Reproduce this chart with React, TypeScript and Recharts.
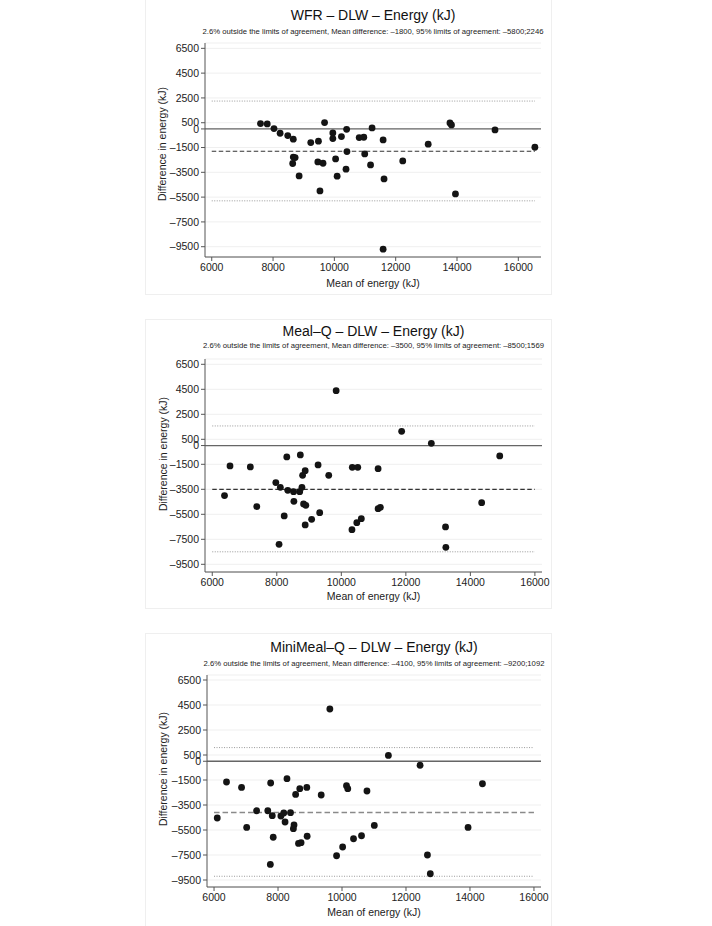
import React from 'react';
import { ScatterChart, Scatter, XAxis, YAxis, CartesianGrid, ReferenceLine } from 'recharts';

// ---- shared axis ticks ----
const xTicks = [6000, 8000, 10000, 12000, 14000, 16000];
const yTicks = [6500, 4500, 2500, 500, 0, -1500, -3500, -5500, -7500, -9500];

// ---- Panel 1: WFR - DLW ----
const wfrMean = [7590, 7810, 8030, 8230, 8480, 8660, 8660, 8720, 8640, 8850, 9230, 9480, 9460, 9630, 9680, 9530, 9950, 9950, 10040, 10090, 10230, 10400, 10410, 10380, 10810, 10960, 10990, 11230, 11180, 11590, 11620, 11590, 12230, 13060, 13770, 13820, 13950, 15240, 16540];
const wfrDiff = [430, 400, 30, -350, -540, -830, -2270, -2310, -2790, -3790, -1100, -990, -2660, -2770, 510, -5000, -320, -780, -2420, -3810, -620, -30, -1830, -3250, -700, -670, -2020, 80, -2900, -890, -4030, -9700, -2580, -1230, 480, 320, -5240, -80, -1480];
const wfrStats = { mean: -1800, lower: -5800, upper: 2246 };

// ---- Panel 2: Meal-Q - DLW ----
const mealMean = [6380, 6550, 7180, 7380, 7970, 8110, 8310, 8340, 8230, 8070, 8530, 8520, 8710, 8730, 8780, 8800, 8880, 8830, 8900, 8880, 9080, 9280, 9330, 9610, 9840, 10340, 10510, 10330, 10480, 10620, 11140, 11140, 11210, 11870, 12790, 13230, 13240, 14350, 14910];
const mealDiff = [-4000, -1630, -1710, -4880, -2960, -3340, -910, -3580, -5630, -7900, -4460, -3690, -3690, -750, -3340, -2380, -2010, -4670, -4780, -6350, -5900, -1550, -5370, -2380, 4390, -1740, -1740, -6730, -6170, -5850, -1850, -5050, -4940, 1140, 180, -6510, -8140, -4570, -830];
const mealStats = { mean: -3500, lower: -8500, upper: 1569 };

// ---- Panel 3: MiniMeal-Q - DLW ----
const miniMean = [9620, 6390, 6860, 7770, 8280, 8680, 8550, 8900, 9350, 10140, 10180, 10780, 6100, 7330, 7680, 7820, 8090, 8180, 8390, 8220, 7020, 8500, 8480, 7850, 8910, 8640, 8720, 10360, 10610, 10020, 9830, 7760, 11010, 11450, 12440, 14390, 13940, 12670, 12760];
const miniDiff = [4180, -1660, -2090, -1740, -1390, -2190, -2650, -2090, -2700, -1950, -2190, -2380, -4540, -3960, -3960, -4350, -4380, -4140, -4110, -4860, -5290, -5100, -5390, -6080, -6000, -6570, -6510, -6200, -5960, -6860, -7560, -8250, -5130, 470, -320, -1800, -5290, -7500, -9000];
const miniStats = { mean: -4100, lower: -9200, upper: 1092 };

const titles = ['WFR – DLW – Energy (kJ)', 'Meal–Q – DLW – Energy (kJ)', 'MiniMeal–Q – DLW – Energy (kJ)'];

const FONT = '"Liberation Sans", Arial, Helvetica, sans-serif';
const BOX_LEFT = 145;
const BOX_WIDTH = 407;

const fmt = (v: number) => (v < 0 ? '–' + Math.abs(v) : String(v));

function subtitle(s: { mean: number; lower: number; upper: number }) {
  return `2.6% outside the limits of agreement, Mean difference: ${fmt(s.mean)}, 95% limits of agreement: ${fmt(s.lower)};${s.upper}`;
}

const Dot = (p: any) => <circle cx={p.cx} cy={p.cy} r={3.4} fill="#141414" />;

interface PanelProps {
  title: string;
  xs: number[];
  ys: number[];
  stats: { mean: number; lower: number; upper: number };
  boxTop: number;
  boxHeight: number;
  plotTop: number;
  plotBottom: number;
  plotLeft: number;
  plotRight: number;
  xDomain: [number, number];
  yDomain: [number, number];
  titleY: number;
  subY: number;
  yLabelX: number;
  yLabelY: number;
  xLabelY: number;
  meanColor: string;
  meanDash: string;
  meanWidth: number;
}

function Panel(p: PanelProps) {
  const data = p.xs.map((x, i) => ({ x, y: p.ys[i] }));
  const end = Math.max(16000, ...p.xs);
  const yAxisW = 50;
  const xAxisH = 30;
  const margin = {
    top: p.plotTop - p.boxTop,
    left: p.plotLeft - BOX_LEFT - yAxisW,
    right: BOX_LEFT + BOX_WIDTH - p.plotRight,
    bottom: p.boxTop + p.boxHeight - p.plotBottom - xAxisH,
  };
  const cx = (p.plotLeft + p.plotRight) / 2;
  const textStyle: React.CSSProperties = {
    position: 'absolute',
    whiteSpace: 'nowrap',
    fontFamily: FONT,
    color: '#111',
    lineHeight: 1,
    transform: 'translate(-50%, -50%)',
  };
  return (
    <>
      <div
        style={{
          position: 'absolute',
          left: BOX_LEFT,
          top: p.boxTop,
          width: BOX_WIDTH,
          height: p.boxHeight,
          boxSizing: 'border-box',
          border: '1px solid #efefef',
        }}
      />
      <div style={{ position: 'absolute', left: BOX_LEFT, top: p.boxTop }}>
        <ScatterChart width={BOX_WIDTH} height={p.boxHeight} margin={margin}>
          <CartesianGrid horizontal vertical={false} stroke="#efefef" />
          <XAxis
            type="number"
            dataKey="x"
            domain={p.xDomain}
            ticks={xTicks}
            interval={0}
            allowDataOverflow
            height={xAxisH}
            tickSize={4}
            tickMargin={3}
            axisLine={{ stroke: '#555' }}
            tickLine={{ stroke: '#555' }}
            tick={{ fontSize: 10.5, fill: '#222', fontFamily: FONT }}
          />
          <YAxis
            type="number"
            dataKey="y"
            domain={p.yDomain}
            ticks={yTicks}
            interval={0}
            allowDataOverflow
            width={yAxisW}
            tickSize={4}
            tickMargin={2}
            tickFormatter={fmt}
            axisLine={{ stroke: '#555' }}
            tickLine={{ stroke: '#555' }}
            tick={{ fontSize: 10.5, fill: '#222', fontFamily: FONT }}
          />
          <ReferenceLine y={0} stroke="#666" strokeWidth={1.3} />
          <ReferenceLine
            segment={[{ x: 6000, y: p.stats.upper }, { x: end, y: p.stats.upper }]}
            stroke="#999"
            strokeDasharray="1 1.5"
          />
          <ReferenceLine
            segment={[{ x: 6000, y: p.stats.lower }, { x: end, y: p.stats.lower }]}
            stroke="#999"
            strokeDasharray="1 1.5"
          />
          <ReferenceLine
            segment={[{ x: 6000, y: p.stats.mean }, { x: end, y: p.stats.mean }]}
            stroke={p.meanColor}
            strokeWidth={p.meanWidth}
            strokeDasharray={p.meanDash}
          />
          <Scatter data={data} shape={Dot} isAnimationActive={false} />
        </ScatterChart>
      </div>
      <div style={{ ...textStyle, left: cx, top: p.titleY, fontSize: 14 }}>{p.title}</div>
      <div style={{ ...textStyle, left: cx, top: p.subY, fontSize: 7.7, color: '#222' }}>{subtitle(p.stats)}</div>
      <div style={{ ...textStyle, left: cx, top: p.xLabelY, fontSize: 10.5, color: '#222' }}>Mean of energy (kJ)</div>
      <div
        style={{
          ...textStyle,
          left: p.yLabelX,
          top: p.yLabelY,
          fontSize: 10.5,
          color: '#222',
          transform: 'translate(-50%, -50%) rotate(-90deg)',
        }}
      >
        Difference in energy (kJ)
      </div>
    </>
  );
}

export default function App() {
  return (
    <div style={{ position: 'absolute', left: 0, top: 0, width: 712, height: 926, background: '#fff', overflow: 'hidden' }}>
      <Panel
        title={titles[0]}
        xs={wfrMean}
        ys={wfrDiff}
        stats={wfrStats}
        boxTop={-1}
        boxHeight={296}
        plotTop={43}
        plotBottom={257}
        plotLeft={205}
        plotRight={541}
        xDomain={[5780, 16740]}
        yDomain={[-10330, 6930]}
        titleY={15}
        subY={31.5}
        yLabelX={162}
        yLabelY={144}
        xLabelY={283}
        meanColor="#333"
        meanDash="4.5 2.5"
        meanWidth={1.2}
      />
      <Panel
        title={titles[1]}
        xs={mealMean}
        ys={mealDiff}
        stats={mealStats}
        boxTop={319}
        boxHeight={290}
        plotTop={359}
        plotBottom={572}
        plotLeft={205}
        plotRight={542}
        xDomain={[5775, 16220]}
        yDomain={[-10116, 6924]}
        titleY={331}
        subY={346}
        yLabelX={163}
        yLabelY={454}
        xLabelY={596}
        meanColor="#333"
        meanDash="4.5 2.5"
        meanWidth={1.2}
      />
      <Panel
        title={titles[2]}
        xs={miniMean}
        ys={miniDiff}
        stats={miniStats}
        boxTop={633}
        boxHeight={294}
        plotTop={675}
        plotBottom={887}
        plotLeft={207}
        plotRight={541}
        xDomain={[5780, 16220]}
        yDomain={[-10060, 6900]}
        titleY={647}
        subY={664}
        yLabelX={163}
        yLabelY={769}
        xLabelY={912}
        meanColor="#8a8a8a"
        meanDash="5.5 3"
        meanWidth={1.6}
      />
    </div>
  );
}
